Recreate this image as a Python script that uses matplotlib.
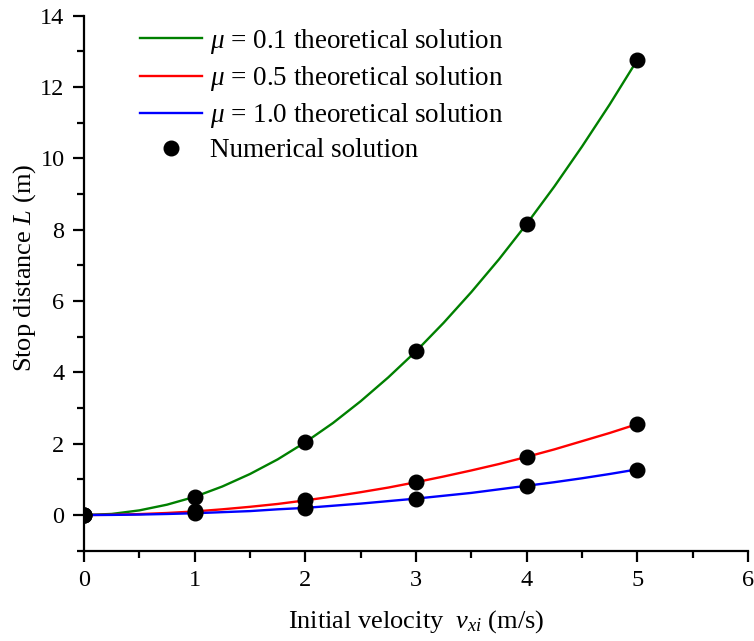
import matplotlib
matplotlib.use("Agg")
import matplotlib.pyplot as plt
from matplotlib.ticker import MultipleLocator

plt.rcParams['font.family'] = ['Liberation Serif', 'DejaVu Serif']
plt.rcParams['mathtext.fontset'] = 'custom'
plt.rcParams['mathtext.rm'] = 'Liberation Serif'
plt.rcParams['mathtext.it'] = 'Liberation Serif:italic'

# theoretical curves
v_curve = [0, 0.25, 0.5, 0.75, 1.0, 1.25, 1.5, 1.75, 2.0, 2.25, 2.5, 2.75, 3.0,
           3.25, 3.5, 3.75, 4.0, 4.25, 4.5, 4.75, 5.0]
L_mu01 = [0, 0.03, 0.13, 0.29, 0.51, 0.80, 1.15, 1.56, 2.04, 2.58, 3.19, 3.86, 4.59,
          5.39, 6.25, 7.17, 8.16, 9.21, 10.33, 11.51, 12.76]
L_mu05 = [0, 0.006, 0.026, 0.057, 0.10, 0.16, 0.23, 0.31, 0.41, 0.52, 0.64, 0.77, 0.92,
          1.08, 1.25, 1.43, 1.63, 1.84, 2.07, 2.30, 2.55]
L_mu10 = [0, 0.003, 0.013, 0.029, 0.05, 0.08, 0.11, 0.16, 0.20, 0.26, 0.32, 0.39, 0.46,
          0.54, 0.62, 0.72, 0.82, 0.92, 1.03, 1.15, 1.28]

# numerical solution points
v_num = [0, 1, 2, 3, 4, 5]
N_mu01 = [0, 0.51, 2.04, 4.59, 8.16, 12.76]
N_mu05 = [0, 0.10, 0.41, 0.92, 1.63, 2.55]
N_mu10 = [0, 0.05, 0.20, 0.46, 0.82, 1.25]

fig = plt.figure(figsize=(7.54, 6.41), dpi=100)
ax = fig.add_axes([0.1114, 0.1409, 0.8806, 0.8346])

lw = 1.7
ax.plot(v_curve, L_mu01, color='#008000', lw=lw, label=r'$\mu$ = 0.1 theoretical solution', zorder=2)
ax.plot(v_curve, L_mu05, color='#ff0000', lw=lw, label=r'$\mu$ = 0.5 theoretical solution', zorder=2)
ax.plot(v_curve, L_mu10, color='#0000ff', lw=lw, label=r'$\mu$ = 1.0 theoretical solution', zorder=2)
ms = 10.5
ax.plot(v_num, N_mu01, 'o', color='black', ms=ms, label='Numerical solution', zorder=3)
ax.plot(v_num, N_mu05, 'o', color='black', ms=ms, zorder=3)
ax.plot(v_num, N_mu10, 'o', color='black', ms=ms, zorder=3)

ax.set_xlim(0, 6)
ax.set_ylim(-1, 14)
ax.xaxis.set_major_locator(MultipleLocator(1))
ax.xaxis.set_minor_locator(MultipleLocator(0.5))
ax.yaxis.set_major_locator(MultipleLocator(2))
ax.yaxis.set_minor_locator(MultipleLocator(1))
for s in ['top', 'right']:
    ax.spines[s].set_visible(False)
for s in ['left', 'bottom']:
    ax.spines[s].set_linewidth(1.6)
ax.tick_params(which='major', direction='out', length=8, width=1.6, labelsize=17.5, pad=6)
ax.tick_params(which='minor', direction='out', length=5, width=1.6)

ax.set_xlabel(r'Initial velocity  $v_{xi}$ (m/s)', fontsize=19, labelpad=12)
ax.set_ylabel(r'Stop distance $L$ (m)', fontsize=19)
ax.yaxis.set_label_coords(-0.07, 0.528)

leg = ax.legend(loc='upper left', bbox_to_anchor=(0.084, 0.979), frameon=False, fontsize=19.5,
                borderpad=0, borderaxespad=0,
                handlelength=2.3, handletextpad=0.3, labelspacing=0.3, numpoints=1)

fig.savefig('out.png', dpi=100)
